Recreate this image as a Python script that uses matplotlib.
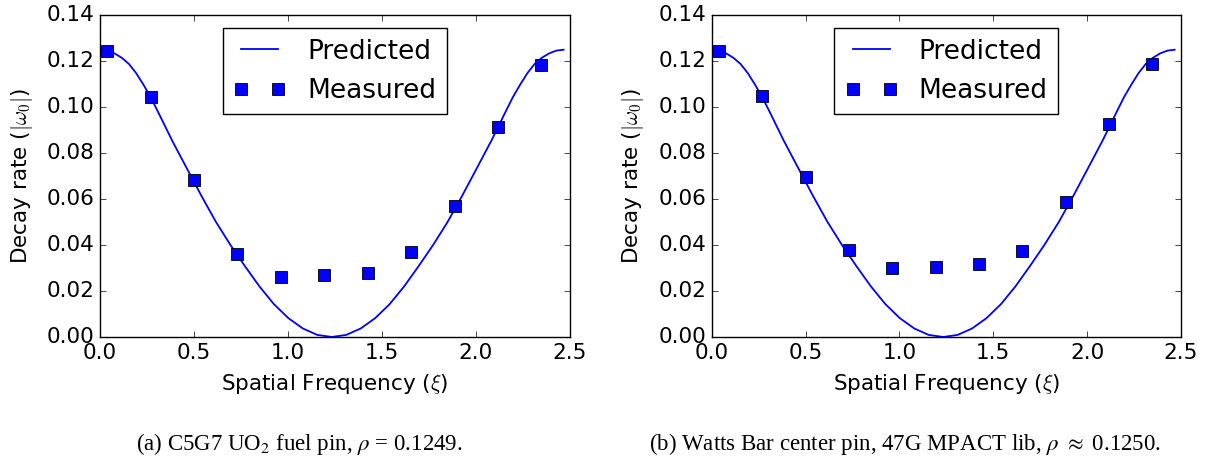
import numpy as np
import matplotlib
matplotlib.use("Agg")
import matplotlib.pyplot as plt

plt.style.use("classic")
plt.rcParams["font.family"] = "DejaVu Sans"
plt.rcParams["mathtext.fontset"] = "cm"

# measured decay rates
xi_meas = [0.039, 0.270, 0.500, 0.731, 0.962, 1.193, 1.424, 1.655, 1.886, 2.117, 2.347]
meas_a = [0.1245, 0.1043, 0.0681, 0.0362, 0.0261, 0.0270, 0.0279, 0.0368, 0.0568, 0.0911, 0.1182]
meas_b = [0.1245, 0.1049, 0.0697, 0.0378, 0.0298, 0.0304, 0.0317, 0.0372, 0.0588, 0.0924, 0.1187]

# predicted curve, sampled off the figure
xi_pred = [0.000, 0.0385, 0.077, 0.1155, 0.154, 0.1925, 0.231, 0.2695, 0.308, 0.385,
           0.462, 0.540, 0.617, 0.694, 0.771, 0.848, 0.925, 1.002, 1.079, 1.156,
           1.233,
           1.310, 1.387, 1.464, 1.541, 1.618, 1.695, 1.772, 1.849, 1.926, 2.004,
           2.081, 2.158, 2.1965, 2.235, 2.2735, 2.312, 2.3505, 2.389, 2.4275, 2.466]
pred = [0.1249, 0.1245, 0.1233, 0.1214, 0.1187, 0.1147, 0.1097, 0.1043, 0.0980, 0.0852,
        0.0733, 0.0613, 0.0500, 0.0400, 0.0308, 0.0220, 0.0143, 0.0082, 0.0037, 0.0009,
        0.0,
        0.0009, 0.0037, 0.0082, 0.0143, 0.0220, 0.0308, 0.0400, 0.0500, 0.0613, 0.0733,
        0.0852, 0.0980, 0.1043, 0.1097, 0.1147, 0.1187, 0.1214, 0.1233, 0.1245, 0.1249]

captions = [r"(a) C5G7 UO$_2$ fuel pin, $\rho$ = 0.1249.",
            r"(b) Watts Bar center pin, 47G MPACT lib, $\rho$ $\approx$ 0.1250."]

fig = plt.figure(figsize=(12.06, 4.62), dpi=100, facecolor="white")
ax1 = fig.add_axes([0.0829, 0.2706, 0.3897, 0.6970])
ax2 = fig.add_axes([0.5901, 0.2706, 0.3892, 0.6970])

fs = 15.5
for ax, meas in [(ax1, meas_a), (ax2, meas_b)]:
    ax.plot(xi_pred, pred, "b-", lw=1.3, label="Predicted")
    ax.plot(xi_meas, meas, "bs", ms=9, mec="k", mew=0.6, label="Measured")
    ax.set_xlim(0, 2.5)
    ax.set_ylim(0, 0.14)
    ax.set_xticks(np.arange(0, 2.51, 0.5))
    ax.set_yticks(np.arange(0, 0.141, 0.02))
    ax.tick_params(labelsize=fs)
    ax.set_xlabel(r"Spatial Frequency ($\xi$)", fontsize=fs, labelpad=7)
    ax.set_ylabel(r"Decay rate ($|\omega_0|$)", fontsize=fs, labelpad=8.5)
    ax.set_facecolor("white")
    leg = ax.legend(loc="upper center", numpoints=2, fontsize=19)
    leg.get_frame().set_facecolor("white")

fig.text(299 / 1206, 1 - 444 / 462, captions[0], ha="center", va="center",
         family="Liberation Serif", fontsize=16.5, math_fontfamily="stix")
fig.text(905 / 1206, 1 - 444 / 462, captions[1], ha="center", va="center",
         family="Liberation Serif", fontsize=16.5, math_fontfamily="stix")

fig.savefig("out.png", dpi=100, facecolor="white")
